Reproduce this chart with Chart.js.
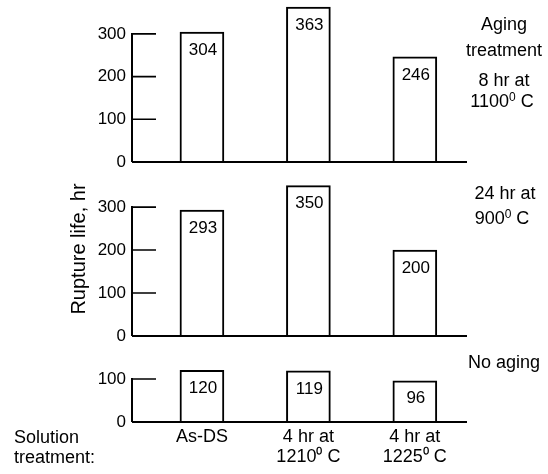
<!DOCTYPE html>
<html>
<head>
<meta charset="utf-8">
<script src="https://cdn.jsdelivr.net/npm/chart.js"></script>
<style>
  html, body { margin: 0; padding: 0; background: #fff; }
  #wrap { position: relative; width: 548px; height: 474px; }
  #wrap canvas { position: absolute; left: 0; top: 0; }
  .note { position: absolute; font-family: "Liberation Sans", Arial, sans-serif; font-size: 18px; color: #000; line-height: 20px; white-space: nowrap; }
  .note.c { text-align: center; transform: translateX(-50%); }
  .note sup { font-size: 12px; line-height: 0; vertical-align: 6px; }
</style>
</head>
<body>
<div id="wrap">
  <canvas id="rupture"></canvas>
  <div class="note c" style="left:504px;top:14px;">Aging</div>
  <div class="note c" style="left:504px;top:40px;">treatment</div>
  <div class="note c" style="left:504px;top:70px;">8 hr at</div>
  <div class="note c" style="left:502px;top:91px;">1100<sup>0</sup> C</div>
  <div class="note c" style="left:505px;top:183px;">24 hr at</div>
  <div class="note c" style="left:502px;top:208px;">900<sup>0</sup> C</div>
  <div class="note c" style="left:504px;top:352px;">No aging</div>
  <div class="note" style="left:14px;top:427px;">Solution</div>
  <div class="note" style="left:14px;top:447px;">treatment:</div>
</div>
<script>
// solution treatments (x categories)
const categories = [["As-DS"], ["4 hr at", "1210\u2070 C"], ["4 hr at", "1225\u2070 C"]];
// rupture life, hr, per aging treatment
const aging1100 = [304, 363, 246];
const aging900 = [293, 350, 200];
const noAging = [120, 119, 96];
// tick labels
const ticksTall = [0, 100, 200, 300];
const ticksShort = [0, 100];

const FONT = "'Liberation Sans', Arial, sans-serif";

function pts(arr) {
    return arr.map((v, i) => ({ x: i, y: v }));
}

function yAxis(tickVals, max, weight, withTitle) {
    return {
        type: "linear",
        position: "left",
        stack: "rupture",
        stackWeight: weight,
        min: 0,
        max: max,
        afterBuildTicks: s => { s.ticks = tickVals.map(v => ({ value: v })); },
        afterFit: s => {
            s.width = 132;
            s.paddingTop = 0;
            s.paddingBottom = 0;
        },
        ticks: { color: "#000", padding: 6, font: { family: FONT, size: 17 } },
        grid: { display: false, drawTicks: false },
        border: { display: false },
        title: {
            display: withTitle,
            text: "Rupture life, hr",
            color: "#000",
            font: { family: FONT, size: 20 },
            padding: { top: 67, bottom: 0 }
        }
    };
}

function barSet(data, axis, topTick) {
    return {
        data: pts(data),
        yAxisID: axis,
        topTick: topTick,
        grouped: false,
        barThickness: 44,
        backgroundColor: "#fff",
        borderColor: "#000",
        borderWidth: 2
    };
}

// axis lines, inward ticks, baselines and values inside bars
const panelPlugin = {
    id: "panels",
    afterDatasetsDraw(chart) {
        const ctx = chart.ctx;
        const area = chart.chartArea;
        ctx.save();
        ctx.strokeStyle = "#000";
        chart.data.datasets.forEach((ds, i) => {
            const sc = chart.scales[ds.yAxisID];
            const y0 = sc.getPixelForValue(0);
            const yTop = sc.getPixelForValue(ds.topTick);
            ctx.lineWidth = 2;
            ctx.beginPath();
            ctx.moveTo(area.left, y0);
            ctx.lineTo(area.right, y0);
            ctx.moveTo(area.left, y0);
            ctx.lineTo(area.left, yTop - 1);
            ctx.stroke();
            ctx.lineWidth = 1.6;
            ctx.beginPath();
            sc.ticks.forEach(t => {
                const y = sc.getPixelForValue(t.value);
                ctx.moveTo(area.left, y);
                ctx.lineTo(area.left + 24, y);
            });
            ctx.stroke();

            ctx.fillStyle = "#000";
            ctx.font = "17px " + FONT;
            ctx.textAlign = "center";
            ctx.textBaseline = "middle";
            chart.getDatasetMeta(i).data.forEach((bar, j) => {
                ctx.fillText(String(ds.data[j].y), bar.x + 1, bar.y + 18);
            });
        });
        ctx.restore();
    }
};

new Chart(document.getElementById("rupture"), {
    type: "bar",
    data: {
        datasets: [
            barSet(aging1100, "y1", 300),
            barSet(aging900, "y2", 300),
            barSet(noAging, "y3", 100)
        ]
    },
    options: {
        responsive: true,
        maintainAspectRatio: false,
        animation: false,
        layout: { padding: { top: 4, right: 81, left: 0, bottom: 0 } },
        plugins: { legend: { display: false }, tooltip: { enabled: false } },
        scales: {
            x: {
                type: "linear",
                offset: false,
                min: -0.657,
                max: 2.49,
                afterBuildTicks: s => { s.ticks = categories.map((c, i) => ({ value: i })); },
                afterFit: s => { s.height = 52; },
                ticks: {
                    color: "#000",
                    padding: 5,
                    maxRotation: 0,
                    autoSkip: false,
                    font: { family: FONT, size: 18, lineHeight: 1.1 },
                    callback: v => categories[v]
                },
                grid: { display: false, offset: false, drawTicks: false },
                border: { display: false }
            },
            // left stacked axes are laid out last-defined on top
            y3: yAxis(ticksShort, 200, 86, false),
            y2: yAxis(ticksTall, 405, 174, true),
            y1: yAxis(ticksTall, 370, 158, false)
        }
    },
    plugins: [panelPlugin]
});
</script>
</body>
</html>
